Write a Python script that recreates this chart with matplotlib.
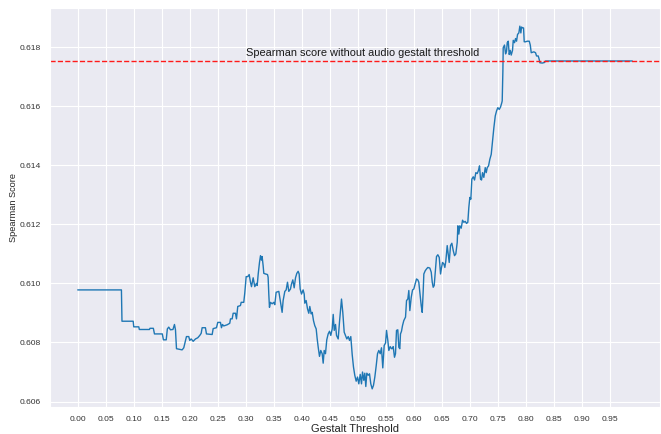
import matplotlib
matplotlib.use("Agg")
import matplotlib.pyplot as plt
import numpy as np
import seaborn as sns

# Spearman score obtained for each gestalt threshold value
thresholds = [
    0.000, 0.078, 0.079, 0.099, 0.100, 0.109, 0.110, 0.128, 0.129, 0.135,
    0.137, 0.151, 0.153, 0.158, 0.160, 0.1625, 0.1655, 0.170, 0.1727, 0.1745,
    0.1763, 0.1864, 0.1893, 0.1941, 0.1982, 0.2000, 0.2025, 0.2061, 0.2102, 0.2143,
    0.2179, 0.2204, 0.2221, 0.2280, 0.2298, 0.2400, 0.2418, 0.2477, 0.2500, 0.2548,
    0.2566, 0.2584, 0.2607, 0.2668, 0.2714, 0.2727, 0.2757, 0.2775, 0.2816, 0.2834,
    0.2857, 0.2905, 0.2918, 0.2964, 0.2982, 0.3007, 0.3036, 0.3061, 0.3084, 0.3102,
    0.3132, 0.3161, 0.3191, 0.3204, 0.3222, 0.3245, 0.3263, 0.3280, 0.3292, 0.3310,
    0.3322, 0.3352, 0.3388, 0.3399, 0.3411, 0.3423, 0.3441, 0.3471, 0.3500, 0.3518,
    0.3542, 0.3590, 0.3602, 0.3625, 0.3649, 0.3667, 0.3697, 0.3721, 0.3745, 0.3768,
    0.3798, 0.3816, 0.3840, 0.3864, 0.3888, 0.3911, 0.3935, 0.3953, 0.3971, 0.3995,
    0.4024, 0.4043, 0.4054, 0.4078, 0.4102, 0.4125, 0.4143, 0.4168, 0.4186, 0.4209,
    0.4232, 0.4257, 0.4275, 0.4293, 0.4316, 0.4339, 0.4364, 0.4382, 0.4400, 0.4423,
    0.4446, 0.4471, 0.4495, 0.4518, 0.4543, 0.4561, 0.4579, 0.4602, 0.4620, 0.4650,
    0.4673, 0.4691, 0.4709, 0.4732, 0.4757, 0.4780, 0.4804, 0.4829, 0.4852, 0.4875,
    0.4900, 0.4923, 0.4946, 0.4971, 0.4995, 0.5018, 0.5043, 0.5066, 0.5084, 0.5107,
    0.5125, 0.5143, 0.5161, 0.5186, 0.5209, 0.5232, 0.5257, 0.5280, 0.5304, 0.5329,
    0.5352, 0.5375, 0.5400, 0.5423, 0.5446, 0.5471, 0.5495, 0.5513, 0.5536, 0.5554,
    0.5579, 0.5602, 0.5614, 0.5632, 0.5655, 0.5673, 0.5691, 0.5714, 0.5732, 0.5750,
    0.5762, 0.5780, 0.5798, 0.5821, 0.5852, 0.5870, 0.5893, 0.5911, 0.5929, 0.5954,
    0.5977, 0.6000, 0.6025, 0.6048, 0.6071, 0.6089, 0.6107, 0.6132, 0.6150, 0.6168,
    0.6179, 0.6204, 0.6227, 0.6250, 0.6286, 0.6311, 0.6329, 0.6346, 0.6364, 0.6382,
    0.6405, 0.6429, 0.6454, 0.6477, 0.6495, 0.6513, 0.6536, 0.6554, 0.6571, 0.6596,
    0.6614, 0.6632, 0.6655, 0.6679, 0.6704, 0.6727, 0.6750, 0.6775, 0.6786, 0.6804,
    0.6821, 0.6846, 0.6870, 0.6893, 0.6918, 0.6941, 0.6964, 0.6982, 0.7000, 0.7018,
    0.7036, 0.7061, 0.7084, 0.7107, 0.7132, 0.7155, 0.7173, 0.7191, 0.7209, 0.7227,
    0.7250, 0.7275, 0.7293, 0.7311, 0.7334, 0.7357, 0.7382, 0.7405, 0.7429, 0.7454,
    0.7477, 0.7500, 0.7525, 0.7548, 0.7571, 0.7578, 0.7590, 0.7596, 0.7619, 0.7638,
    0.7655, 0.7668, 0.7686, 0.7703, 0.7721, 0.7739, 0.7762, 0.7775, 0.7798, 0.7816,
    0.7834, 0.7852, 0.7875, 0.7893, 0.7911, 0.7923, 0.7941, 0.7959, 0.7971, 0.7995,
    0.8025, 0.8061, 0.8079, 0.8096, 0.8143, 0.8173, 0.8191, 0.8221, 0.8239, 0.8250,
    0.8293, 0.8334, 0.8352, 0.9900,
]
scores = [
    0.60978, 0.60978, 0.60872, 0.60872, 0.60853, 0.60853, 0.60844, 0.60844, 0.60848, 0.60848,
    0.60829, 0.60829, 0.60809, 0.60809, 0.60846, 0.60852, 0.60843, 0.60844, 0.60861, 0.60843,
    0.60779, 0.60775, 0.60782, 0.60820, 0.60820, 0.60807, 0.60812, 0.60804, 0.60812, 0.60816,
    0.60824, 0.60831, 0.60850, 0.60850, 0.60829, 0.60827, 0.60847, 0.60850, 0.60868, 0.60868,
    0.60850, 0.60861, 0.60856, 0.60860, 0.60865, 0.60880, 0.60880, 0.60899, 0.60899, 0.60880,
    0.60922, 0.60925, 0.60936, 0.60936, 0.60967, 0.61023, 0.61023, 0.61030, 0.61004, 0.60989,
    0.61019, 0.60989, 0.61000, 0.60993, 0.61032, 0.61071, 0.61094, 0.61079, 0.61091, 0.61060,
    0.61034, 0.61032, 0.61030, 0.61021, 0.60964, 0.60919, 0.60936, 0.60931, 0.60936, 0.60928,
    0.60970, 0.60973, 0.60959, 0.60931, 0.60902, 0.60942, 0.60973, 0.60978, 0.61004, 0.60973,
    0.60981, 0.60998, 0.61012, 0.60985, 0.61019, 0.61034, 0.61041, 0.61032, 0.60981, 0.60964,
    0.60978, 0.60964, 0.60933, 0.60942, 0.60914, 0.60899, 0.60922, 0.60897, 0.60902, 0.60874,
    0.60857, 0.60846, 0.60812, 0.60784, 0.60753, 0.60773, 0.60762, 0.60730, 0.60773, 0.60762,
    0.60809, 0.60829, 0.60838, 0.60824, 0.60846, 0.60895, 0.60841, 0.60861, 0.60824, 0.60812,
    0.60869, 0.60908, 0.60947, 0.60902, 0.60835, 0.60824, 0.60812, 0.60820, 0.60807, 0.60820,
    0.60759, 0.60717, 0.60689, 0.60669, 0.60683, 0.60660, 0.60692, 0.60660, 0.60700, 0.60672,
    0.60696, 0.60651, 0.60696, 0.60689, 0.60694, 0.60660, 0.60643, 0.60655, 0.60683, 0.60722,
    0.60762, 0.60773, 0.60762, 0.60782, 0.60714, 0.60790, 0.60798, 0.60841, 0.60807, 0.60773,
    0.60786, 0.60779, 0.60779, 0.60786, 0.60750, 0.60762, 0.60841, 0.60843, 0.60784, 0.60779,
    0.60829, 0.60838, 0.60857, 0.60874, 0.60886, 0.60942, 0.60947, 0.60976, 0.60908, 0.60953,
    0.60978, 0.60981, 0.60998, 0.61015, 0.61012, 0.61004, 0.60970, 0.60925, 0.60902, 0.60976,
    0.61032, 0.61043, 0.61049, 0.61054, 0.61052, 0.61038, 0.61004, 0.60987, 0.60993, 0.61038,
    0.61091, 0.61097, 0.61088, 0.61032, 0.61054, 0.61071, 0.61066, 0.61054, 0.61075, 0.61128,
    0.61100, 0.61071, 0.61128, 0.61136, 0.61111, 0.61094, 0.61100, 0.61139, 0.61195, 0.61167,
    0.61195, 0.61187, 0.61214, 0.61207, 0.61210, 0.61203, 0.61207, 0.61257, 0.61291, 0.61285,
    0.61353, 0.61361, 0.61350, 0.61375, 0.61372, 0.61383, 0.61398, 0.61353, 0.61350, 0.61375,
    0.61359, 0.61392, 0.61375, 0.61392, 0.61398, 0.61420, 0.61437, 0.61482, 0.61527, 0.61567,
    0.61584, 0.61595, 0.61589, 0.61597, 0.61612, 0.61618, 0.61719, 0.61798, 0.61807, 0.61777,
    0.61786, 0.61815, 0.61820, 0.61775, 0.61789, 0.61773, 0.61789, 0.61823, 0.61815, 0.61829,
    0.61820, 0.61843, 0.61848, 0.61871, 0.61848, 0.61868, 0.61865, 0.61865, 0.61818, 0.61818,
    0.61820, 0.61820, 0.61807, 0.61781, 0.61784, 0.61781, 0.61770, 0.61770, 0.61758, 0.61747,
    0.61746, 0.61748, 0.61753, 0.61753,
]

# Score obtained when no gestalt threshold is applied
baseline_score = 0.61753
baseline_label = "Spearman score without audio gestalt threshold"
x_ticks = np.arange(0, 1, 0.05)

sns.set_style("darkgrid")
plt.rcParams["font.family"] = ["Liberation Sans", "DejaVu Sans"]

fig = plt.figure(figsize=(6.61, 4.34), dpi=100)
ax = fig.add_axes([50 / 661, 27 / 434, 610 / 661, 399 / 434])

ax.plot(thresholds, scores, color="#1f77b4", linewidth=1.0)
ax.axhline(baseline_score, color="#ff1a1a", linestyle="--", linewidth=1.0)
ax.text(0.3, 0.6177, baseline_label, fontsize=7.9, color="#1a1a1a")

ax.set_xticks(x_ticks)
ax.tick_params(axis="both", labelsize=6.1, pad=3, labelcolor="#333333")
ax.set_xlabel("Gestalt Threshold", fontsize=8, labelpad=1, color="#222222")
ax.set_ylabel("Spearman Score", fontsize=6.6, labelpad=1.5, color="#222222")

fig.savefig("out.png", dpi=100)
